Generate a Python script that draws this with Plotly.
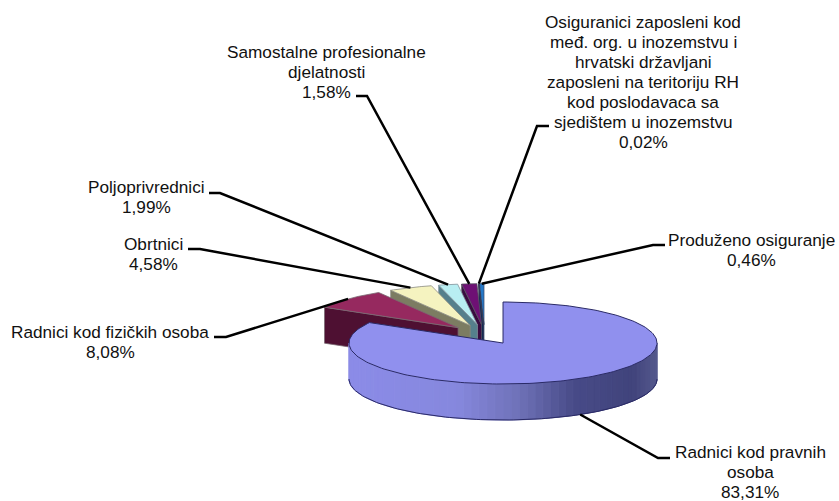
import numpy as np
import plotly.graph_objects as go

# ---- data ----
categories = ["Radnici kod pravnih osoba", "Radnici kod fizičkih osoba", "Obrtnici",
              "Poljoprivrednici", "Samostalne profesionalne djelatnosti",
              "Osiguranici zaposleni kod međ. org. u inozemstvu i hrvatski državljani zaposleni na teritoriju RH kod poslodavaca sa sjedištem u inozemstvu",
              "Produženo osiguranje"]
values = [83.31, 8.08, 4.58, 1.99, 1.58, 0.02, 0.46]
value_labels = ["83,31%", "8,08%", "4,58%", "1,99%", "1,58%", "0,02%", "0,46%"]
label_lines = [
    ["Radnici kod pravnih", "osoba"],
    ["Radnici kod fizičkih osoba"],
    ["Obrtnici"],
    ["Poljoprivrednici"],
    ["Samostalne profesionalne", "djelatnosti"],
    ["Osiguranici zaposleni kod", "međ. org. u inozemstvu i", "hrvatski državljani",
     "zaposleni na teritoriju RH", "kod poslodavaca sa", "sjedištem u inozemstvu"],
    ["Produženo osiguranje"],
]
top_colors = ["#9090ee", "#96295f", "#f5f3c0", "#b8eef2", "#6e1074", "#1a4f9a", "#2478c8"]
wall_colors = ["#5a5ea8", "#4e1032", "#7c7c62", "#55808c", "#3a0c40", "#102a55", "#123f78"]
edge_colors = ["#2a2a66", "#7a6a72", "#8a8a80", "#7f9099", "#555060", "#333b55", "#334a70"]

# ---- pie layout ----
CX, CY = 484.5, 334.5      # pie centre
RX, RY = 154.0, 41.0       # ellipse radii
DEPTH = 36.0               # thickness
EXPLODE = 0.24
label_x = [750, 110, 153, 146, 326, 643, 751]     # label centres
label_y = [452, 332, 244, 187, 52, 22, 240]       # first-line centres
LINE_H = 20.0
elbows = [[(658, 458), (670, 458)], [(226, 337), (214, 337)], [(200, 249), (188, 249)],
          [(220, 193), (209, 193)], [(367, 96), (356, 96)], [(537, 126), (549, 126)],
          [(653, 245), (665, 245)]]
wall_ramp = [(0.0, "#8c8ce8"), (0.35, "#8688de"), (0.55, "#6f72b8"), (0.73, "#484b88"),
             (0.92, "#41447c"), (1.0, "#565a8e")]


def hex2rgb(c):
    return np.array([int(c[i:i + 2], 16) for i in (1, 3, 5)], float)


def ramp(t):
    xs = [p[0] for p in wall_ramp]
    cols = np.array([hex2rgb(p[1]) for p in wall_ramp])
    rgb = [np.interp(t, xs, cols[:, k]) for k in range(3)]
    return "rgb(%d,%d,%d)" % tuple(rgb)


total = sum(values)
edges = np.concatenate([[0], np.cumsum(values)]) / total * 360.0
mids = (edges[:-1] + edges[1:]) / 2


def center(i):
    a = np.radians(mids[i])
    return CX + EXPLODE * RX * np.sin(a), CY - EXPLODE * RY * np.cos(a)


def rim(cx, cy, deg, dz=0.0):
    a = np.radians(deg)
    return cx + RX * np.sin(a), cy - RY * np.cos(a) + dz


fig = go.Figure()


def poly(xs, ys, fill, line=None, width=1.0, name=""):
    fig.add_trace(go.Scatter(x=list(xs), y=list(ys), mode="lines", fill="toself", fillcolor=fill,
                             line=dict(color=line or fill, width=width), hoverinfo="skip",
                             showlegend=False, name=name))


# small slices, back to front (right to left)
for i in range(len(values) - 1, 0, -1):
    cx, cy = center(i)
    sx, sy = rim(cx, cy, edges[i])
    poly([cx, sx, sx, cx, cx], [cy, sy, sy + DEPTH, cy + DEPTH, cy], wall_colors[i], edge_colors[i], 0.8,
         categories[i])
    arc = np.linspace(edges[i], edges[i + 1], 30)
    ax, ay = rim(cx, cy, arc)
    poly(np.r_[cx, ax, cx], np.r_[cy, ay, cy], top_colors[i], edge_colors[i], 0.8, categories[i])

# large slice: outer wall as gradient strips, then top face
cx, cy = center(0)
steps = np.arange(90, 272, 3.0)
for a0, a1 in zip(steps[:-1], steps[1:]):
    arc = np.linspace(a0, a1, 4)
    ax, ay = rim(cx, cy, arc)
    t = 1 - (np.sin(np.radians((a0 + a1) / 2)) + 1) / 2
    t = 1 - t if False else (np.sin(np.radians((a0 + a1) / 2)) + 1) / 2
    poly(np.r_[ax, ax[::-1], ax[0]], np.r_[ay, (ay + DEPTH)[::-1], ay[0]], ramp(t), None, 1.0, categories[0])
arc = np.linspace(90, 270, 120)
ax, ay = rim(cx, cy, arc)
fig.add_trace(go.Scatter(x=ax, y=ay + DEPTH, mode="lines", line=dict(color=edge_colors[0], width=1),
                         hoverinfo="skip", showlegend=False))
arc = np.linspace(edges[0], edges[1], 200)
ax, ay = rim(cx, cy, arc)
poly(np.r_[cx, ax, cx], np.r_[cy, ay, cy], top_colors[0], edge_colors[0], 1.0, categories[0])

# leader lines + labels
for i in range(len(values)):
    c = center(i)
    px, py = rim(c[0], c[1], mids[i], DEPTH if i == 0 else 0.0)
    xs = [px] + [e[0] for e in elbows[i]]
    ys = [py] + [e[1] for e in elbows[i]]
    fig.add_trace(go.Scatter(x=xs, y=ys, mode="lines", line=dict(color="black", width=2.5),
                             hoverinfo="skip", showlegend=False))
    for k, txt in enumerate(label_lines[i] + [value_labels[i]]):
        fig.add_annotation(x=label_x[i], y=label_y[i] + k * LINE_H, text=txt, showarrow=False,
                           xanchor="center", yanchor="middle",
                           font=dict(family="Liberation Sans, Arial, sans-serif", size=17.2, color="#111111"))

fig.update_xaxes(range=[0, 839], visible=False, fixedrange=True)
fig.update_yaxes(range=[501, 0], visible=False, fixedrange=True)
fig.update_layout(width=839, height=501, margin=dict(l=0, r=0, t=0, b=0),
                  paper_bgcolor="white", plot_bgcolor="white", showlegend=False)
fig.write_html("out.html", config={"displayModeBar": False},
               post_script="document.body.style.margin='0';document.body.style.overflow='hidden';")
